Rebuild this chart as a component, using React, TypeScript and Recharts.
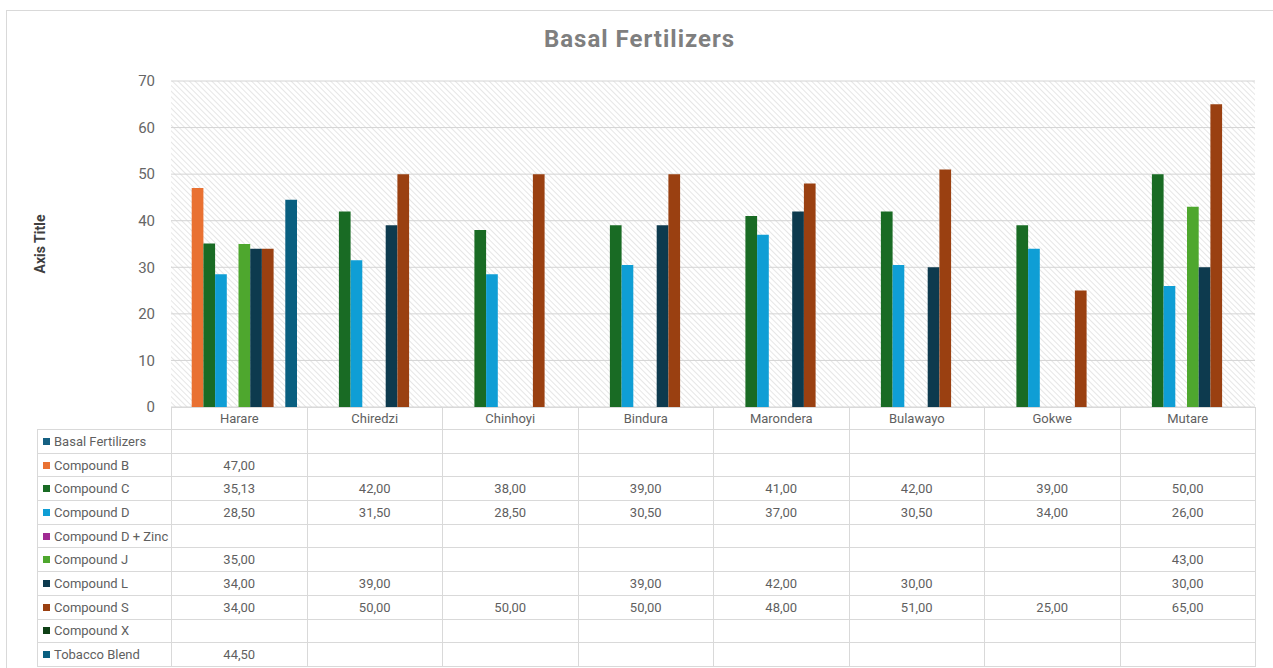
import React from 'react';
import { BarChart, Bar, XAxis, YAxis, CartesianGrid } from 'recharts';

const categories = ['Harare', 'Chiredzi', 'Chinhoyi', 'Bindura', 'Marondera', 'Bulawayo', 'Gokwe', 'Mutare'];

const basalFertilizers: (number | null)[] = [null, null, null, null, null, null, null, null];
const compoundB: (number | null)[] = [47, null, null, null, null, null, null, null];
const compoundC: (number | null)[] = [35.13, 42, 38, 39, 41, 42, 39, 50];
const compoundD: (number | null)[] = [28.5, 31.5, 28.5, 30.5, 37, 30.5, 34, 26];
const compoundDZinc: (number | null)[] = [null, null, null, null, null, null, null, null];
const compoundJ: (number | null)[] = [35, null, null, null, null, null, null, 43];
const compoundL: (number | null)[] = [34, 39, null, 39, 42, 30, null, 30];
const compoundS: (number | null)[] = [34, 50, 50, 50, 48, 51, 25, 65];
const compoundX: (number | null)[] = [null, null, null, null, null, null, null, null];
const tobaccoBlend: (number | null)[] = [44.5, null, null, null, null, null, null, null];

const yTicks = [0, 10, 20, 30, 40, 50, 60, 70];

const series = [
  { key: 'basal', name: 'Basal Fertilizers', values: basalFertilizers, color: '#156082' },
  { key: 'b', name: 'Compound B', values: compoundB, color: '#E97132' },
  { key: 'c', name: 'Compound C', values: compoundC, color: '#196B24' },
  { key: 'd', name: 'Compound D', values: compoundD, color: '#0F9ED5' },
  { key: 'dz', name: 'Compound D + Zinc', values: compoundDZinc, color: '#A02B93' },
  { key: 'j', name: 'Compound J', values: compoundJ, color: '#4EA72E' },
  { key: 'l', name: 'Compound L', values: compoundL, color: '#0D3A4E' },
  { key: 's', name: 'Compound S', values: compoundS, color: '#9A4011' },
  { key: 'x', name: 'Compound X', values: compoundX, color: '#0F4016' },
  { key: 't', name: 'Tobacco Blend', values: tobaccoBlend, color: '#095F80' },
];

const chartData = categories.map((name, i) => {
  const row: Record<string, any> = { name };
  series.forEach((s) => {
    row[s.key] = s.values[i];
  });
  return row;
});

const fmt = (v: number | null) => (v == null ? '' : v.toFixed(2).replace('.', ','));

const FONT = 'Roboto, "Open Sans", sans-serif';
const LINE = '1px solid #d9d9d9';

export default function App() {
  const cell: React.CSSProperties = {
    border: LINE,
    padding: 0,
    textAlign: 'center',
    fontSize: 13,
    color: '#5f5f5f',
    whiteSpace: 'nowrap',
    overflow: 'hidden',
  };

  return (
    <div
      style={{
        position: 'absolute',
        left: 0,
        top: 0,
        width: 1273,
        height: 668,
        overflow: 'hidden',
        background: '#fff',
        fontFamily: FONT,
      }}
    >
      <svg width="0" height="0" style={{ position: 'absolute' }}>
        <defs>
          <pattern id="hatch" width="4" height="4" patternUnits="userSpaceOnUse" patternTransform="rotate(-45)">
            <rect width="4" height="4" fill="#ffffff" />
            <line x1="0" y1="0" x2="0" y2="4" stroke="#d6d6d6" strokeWidth="1.2" />
          </pattern>
        </defs>
      </svg>

      <div
        style={{
          position: 'absolute',
          left: 6,
          top: 10,
          width: 1300,
          height: 700,
          border: LINE,
        }}
      />

      <div
        style={{
          position: 'absolute',
          left: 6,
          width: 1267,
          top: 25,
          textAlign: 'center',
          fontSize: 24,
          letterSpacing: 1,
          fontWeight: 700,
          color: '#7f7f7f',
        }}
      >
        Basal Fertilizers
      </div>

      <div
        style={{
          position: 'absolute',
          left: 40,
          top: 244,
          transform: 'translate(-50%, -50%) rotate(-90deg)',
          fontSize: 14,
          fontWeight: 700,
          color: '#404040',
          whiteSpace: 'nowrap',
        }}
      >
        Axis Title
      </div>

      <div style={{ position: 'absolute', left: 0, top: 0 }}>
        <BarChart
          width={1273}
          height={420}
          data={chartData}
          margin={{ top: 81, right: 18, left: 111, bottom: 13 }}
          barGap={0}
          barSize={11.7}
        >
          <CartesianGrid vertical={false} stroke="#d4d4d4" fill="url(#hatch)" fillOpacity={1} />
          <XAxis dataKey="name" hide />
          <YAxis
            width={60}
            domain={[0, 70]}
            ticks={yTicks}
            axisLine={false}
            tickLine={false}
            tickSize={0}
            tickMargin={16}
            tick={{ fill: '#666666', fontSize: 15, fontFamily: FONT }}
          />
          {series.map((s) => (
            <Bar key={s.key} dataKey={s.key} name={s.name} fill={s.color} isAnimationActive={false} />
          ))}
        </BarChart>
      </div>

      <table
        style={{
          position: 'absolute',
          left: 37,
          top: 407,
          width: 1218,
          borderCollapse: 'collapse',
          tableLayout: 'fixed',
          fontFamily: FONT,
        }}
      >
        <colgroup>
          <col style={{ width: 134 }} />
          {categories.map((c) => (
            <col key={c} style={{ width: 135.5 }} />
          ))}
        </colgroup>
        <tbody>
          <tr style={{ height: 22 }}>
            <td style={{ ...cell, border: 'none' }} />
            {categories.map((c) => (
              <td key={c} style={cell}>
                {c}
              </td>
            ))}
          </tr>
          {series.map((s) => (
            <tr key={s.key} style={{ height: 23.7 }}>
              <td style={{ ...cell, textAlign: 'left', paddingLeft: 5 }}>
                <span
                  style={{
                    display: 'inline-block',
                    width: 7,
                    height: 7,
                    background: s.color,
                    marginRight: 4,
                    verticalAlign: 'middle',
                    position: 'relative',
                    top: -1,
                  }}
                />
                {s.name}
              </td>
              {s.values.map((v, i) => (
                <td key={i} style={cell}>
                  {fmt(v)}
                </td>
              ))}
            </tr>
          ))}
        </tbody>
      </table>
    </div>
  );
}
